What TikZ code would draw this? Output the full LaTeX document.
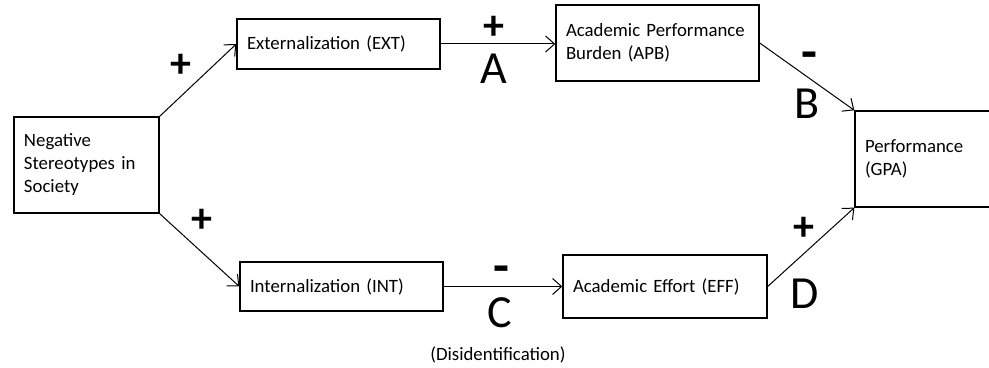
\documentclass[tikz,border=0pt]{standalone}
\usepackage{fontspec}
\setmainfont[WordSpace=0.6]{Carlito}
\usetikzlibrary{arrows.meta}

\tikzset{
  box/.style={draw, rectangle, line width=0.7pt, align=left, inner xsep=5pt,
    font=\fontsize{9.4}{11.5}\selectfont},
  link/.style={line width=0.5pt, -{Straight Barb[length=4.5pt,width=8pt]}},
  sign/.style={inner sep=0pt, font=\fontsize{21}{21}\selectfont\bfseries},
  minus/.style={inner sep=0pt, font=\fontsize{26}{26}\selectfont\bfseries},
  letter/.style={inner sep=0pt, font=\fontsize{23}{23}\selectfont},
  note/.style={inner sep=0pt, font=\fontsize{9.4}{11.5}\selectfont}
}

\begin{document}
\begin{tikzpicture}[x=0.5pt, y=-0.5pt]
\useasboundingbox (0,0) rectangle (989,368);
\clip (0,0) rectangle (989,368);

% boxes
\node[box, minimum width=72.5pt, minimum height=48pt, text width=62.5pt] (NSS) at (86.5,165)
  {Negative\\Stereotypes in\\Society};
\node[box, minimum width=101.5pt, minimum height=25pt, text width=91.5pt] (EXT) at (338.5,44)
  {Externalization (EXT)};
\node[box, minimum width=101.5pt, minimum height=38pt, text width=91.5pt] (APB) at (657.5,43)
  {Academic Performance\\Burden (APB)};
\node[box, minimum width=80pt, minimum height=48pt, text width=70pt] (GPA) at (935,159)
  {Performance\\(GPA)};
\node[box, minimum width=101.5pt, minimum height=24.5pt, text width=91.5pt] (INT) at (341.5,286.5)
  {Internalization (INT)};
\node[box, minimum width=102pt, minimum height=31.5pt, text width=92pt] (EFF) at (665,286.5)
  {Academic Effort (EFF)};

% signs and path letters
\node[sign] (sNE) at (181,66) {+};
\node[sign] (sNI) at (202,221) {+};
\node[sign] (sA) at (494,28) {+};
\node[letter] (lA) at (494,69) {A};
\node[minus] (sB) at (809,61) {-};
\node[letter] (lB) at (807,104) {B};
\node[minus] (sC) at (501,275) {-};
\node[letter] (lC) at (500,313) {C};
\node[sign] (sD) at (804,229) {+};
\node[letter] (lD) at (805,294) {D};
\node[note] (dis) at (498,355) {(Disidentification)};

% connectors
\draw[link] (NSS.north east) -- (EXT.west);
\draw[link] (NSS.south east) -- (INT.west);
\draw[link] (EXT.east) -- (APB.west |- EXT.east);
\draw[link] (APB.east) -- (GPA.north west);
\draw[link] (INT.east) -- (EFF.west |- INT.east);
\draw[link] (EFF.east) -- (GPA.south west);
\end{tikzpicture}
\end{document}
